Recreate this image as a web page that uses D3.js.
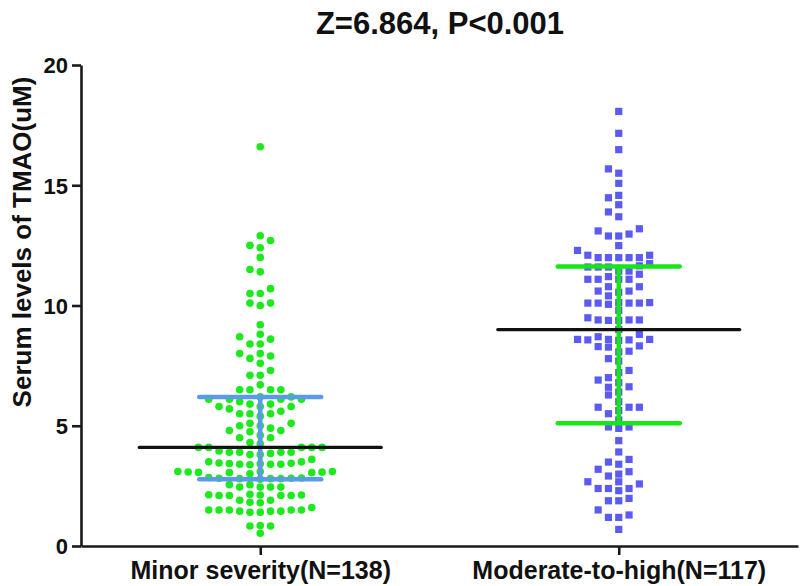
<!DOCTYPE html>
<html><head><meta charset="utf-8">
<script src="https://cdn.jsdelivr.net/npm/d3@7"></script>
<style>body{margin:0;background:#fff} svg{display:block}</style>
</head><body>
<svg id="chart" width="800" height="586"></svg>
<script>
const categories = ["Minor severity(N=138)", "Moderate-to-high(N=117)"];
const minorValues = [
  16.6, 12.9, 12.7, 12.5, 12.4, 12.0, 11.5, 11.4, 10.7, 10.5, 10.5, 10.1, 10.0, 10.1, 9.2,
  8.7, 8.8, 8.4, 8.4, 8.6, 8.0, 7.8, 7.9, 8.0, 7.6, 7.3, 7.1, 7.1, 6.7, 6.5, 6.5, 6.5, 6.5,
  6.2, 6.1, 6.1, 6.2, 6.1, 6.0, 6.1,
  5.8, 5.8, 5.8, 5.7, 5.9, 5.9,
  5.5, 5.5, 5.5, 5.4, 5.6,
  5.1, 5.0, 4.9, 4.8, 4.75, 4.8, 5.0, 5.1,
  4.5, 4.6, 4.5, 4.25, 4.3,
  4.1, 4.1, 4.1, 4.1, 4.1,
  3.9, 3.9, 3.85, 3.8, 3.8, 3.9, 3.9, 3.95,
  3.6, 3.5,
  3.45, 3.42, 3.4, 3.43, 3.44, 3.4, 3.38, 3.4, 3.5,
  3.1, 3.08, 3.05, 3.07, 3.1, 3.06, 3.05, 3.0, 3.1,
  2.8, 2.82, 2.78, 2.85, 2.8, 2.83, 2.8, 2.82,
  2.55, 2.45, 2.45, 2.45, 2.45, 2.55,
  2.15, 2.1, 2.1, 2.1, 2.1, 2.12, 2.13, 2.12,
  1.9, 1.8, 1.82, 1.9,
  1.5, 1.5, 1.5, 1.45, 1.4, 1.4, 1.45, 1.45, 1.5, 1.5, 1.6,
  0.83, 0.83, 0.85, 0.53
];
const moderateValues = [
  18.07, 17.16, 16.48, 15.68, 15.5, 15.08, 14.48, 14.58, 14.19, 13.69, 13.89, 13.1, 12.89, 12.89, 12.97, 13.19, 12.49, 12.29, 12.09, 12.09,
  11.99, 11.99, 11.99, 11.99, 11.99, 11.74, 11.6, 11.6, 11.6, 11.65,
  11.43, 11.3, 11.43, 11.2, 11.09, 11.09, 11.09, 11.09, 10.78, 10.78,
  10.6, 10.55, 10.6, 10.12, 10.1, 10.1, 10.05, 10.1, 10.1, 10.12,
  9.49, 9.4, 9.38, 9.38, 9.4, 9.4,
  8.70, 8.57, 8.57, 8.55, 8.27, 8.07, 8.29, 8.32, 8.59, 8.59, 8.59, 8.1,
  7.69, 7.79, 7.21, 6.9, 6.62, 6.79, 7.0, 6.6, 6.28,
  5.77, 5.77, 5.77, 6.0, 5.63, 5.24, 4.95, 4.95, 4.89, 4.38, 3.91,
  3.49, 3.40, 3.60, 3.19, 3.09, 2.91, 2.99, 2.67, 2.58, 2.67,
  2.39, 2.39, 2.39, 2.3, 1.98, 1.88, 1.88, 1.5, 1.19, 1.19, 1.29, 0.69,
  8.8, 9.0, 7.3, 6.4, 5.5, 9.8, 10.4
];
const medians = [4.1, 9.0];
const q1 = [2.78, 5.1];
const q3 = [6.2, 11.62];
const yTicks = [0, 5, 10, 15, 20];
const titleText = "Z=6.864, P<0.001";
const yLabel = "Serum levels of TMAO(uM)";

const FONT = "'Liberation Sans', Arial, Helvetica, sans-serif";
const svg = d3.select("#chart");
const x = d3.scalePoint().domain(categories).range([81, 798]).padding(0.5);
const y = d3.scaleLinear().domain([0, 20]).range([546, 65]);

// beeswarm in discrete columns
function swarm(values, cx, colStep, minDy) {
  const sorted = values.slice().sort((a, b) => a - b);
  const placed = [];
  sorted.forEach(v => {
    const py = y(v);
    for (let k = 0; k < 60; k++) {
      const off = k === 0 ? 0 : (k % 2 === 1 ? -Math.ceil(k / 2) : Math.ceil(k / 2));
      const clash = placed.some(p => p.col === off && Math.abs(p.y - py) < minDy);
      if (!clash) { placed.push({col: off, y: py, x: cx + off * colStep, v}); break; }
    }
  });
  return placed;
}

const minorPts = swarm(minorValues, x(categories[0]), 10.3, 7.6);
const modPts = swarm(moderateValues, x(categories[1]), 10.3, 7.6);

svg.append("g").selectAll("circle").data(minorPts).join("circle")
  .attr("cx", d => d.x).attr("cy", d => d.y).attr("r", 3.8).attr("fill", "#1ee81e");
svg.append("g").selectAll("rect").data(modPts).join("rect")
  .attr("x", d => d.x - 3.6).attr("y", d => d.y - 3.6).attr("width", 7.2).attr("height", 7.2)
  .attr("fill", "#5b5bf2");

// error bars (IQR)
const barColors = ["#5b9ae8", "#16e616"];
const capHalf = 61;
categories.forEach((c, i) => {
  const g = svg.append("g").attr("stroke", barColors[i]).attr("stroke-width", 4.5).attr("stroke-linecap", "round");
  g.append("line").attr("x1", x(c)).attr("x2", x(c)).attr("y1", y(q1[i])).attr("y2", y(q3[i]));
  g.append("line").attr("x1", x(c) - capHalf).attr("x2", x(c) + capHalf).attr("y1", y(q1[i])).attr("y2", y(q1[i]));
  g.append("line").attr("x1", x(c) - capHalf).attr("x2", x(c) + capHalf).attr("y1", y(q3[i])).attr("y2", y(q3[i]));
});
// median lines
svg.append("g").selectAll("line").data(categories).join("line")
  .attr("x1", c => x(c) - 121).attr("x2", c => x(c) + 121)
  .attr("y1", (c, i) => y(medians[i])).attr("y2", (c, i) => y(medians[i]))
  .attr("stroke", "#111").attr("stroke-width", 3.2).attr("stroke-linecap", "round");

// axes
const yAxis = svg.append("g").attr("transform", "translate(81,0)")
  .call(d3.axisLeft(y).tickValues(yTicks).tickSize(9).tickSizeOuter(0).tickPadding(4));
const xAxis = svg.append("g").attr("transform", "translate(0,546)")
  .call(d3.axisBottom(x).tickSize(9).tickSizeOuter(0).tickPadding(6));
[yAxis, xAxis].forEach(a => {
  a.selectAll("path, line").attr("stroke", "#1a1a1a").attr("stroke-width", 2.6);
  a.selectAll("text").attr("fill", "#111").style("font-family", FONT).style("font-weight", "bold");
});
yAxis.selectAll("text").style("font-size", "22px").attr("dy", "0.36em");
xAxis.selectAll("text").style("font-size", "25px").attr("dy", "0.72em");

svg.append("text").attr("x", 440).attr("y", 34).attr("text-anchor", "middle")
  .style("font-family", FONT).style("font-weight", "bold").style("font-size", "31px")
  .attr("fill", "#111").text(titleText);
svg.append("text").attr("transform", "translate(31,242) rotate(-90)").attr("text-anchor", "middle")
  .style("font-family", FONT).style("font-weight", "bold").style("font-size", "26px")
  .attr("fill", "#111").text(yLabel);
</script>
</body></html>
